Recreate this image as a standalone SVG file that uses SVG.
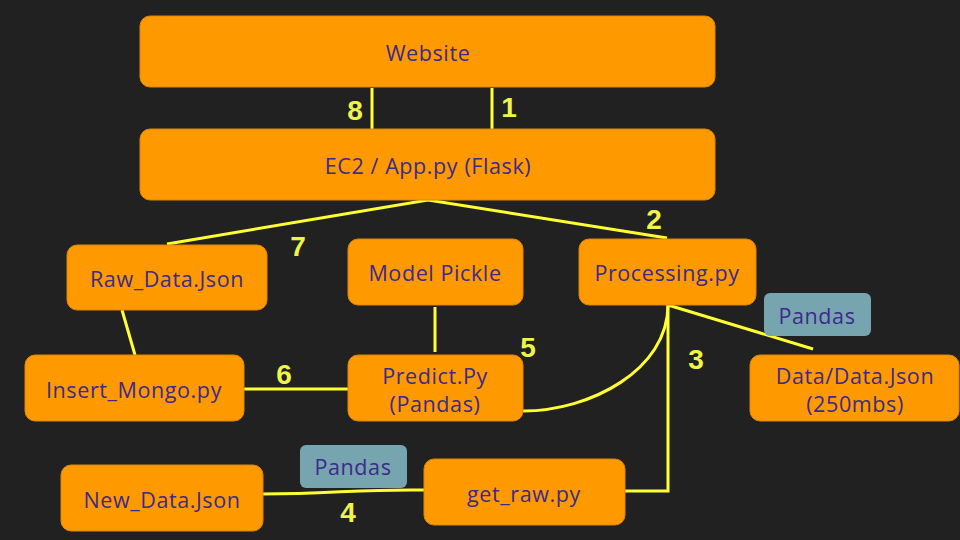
<svg xmlns="http://www.w3.org/2000/svg" width="960" height="540" viewBox="0 0 960 540">
<style>
.box{fill:#ff9900;stroke:#e08600;stroke-width:1}
.tag{fill:#76a5af}
.t{font-family:"Open Sans","Noto Sans",sans-serif;font-size:21.5px;letter-spacing:0.6px;fill:#3d2a8c;text-anchor:middle;dominant-baseline:central}
.n{font-family:"Liberation Sans",Arial,sans-serif;font-size:28px;font-weight:bold;fill:#eef44a;text-anchor:middle;dominant-baseline:central}
.c{fill:none;stroke:#ffff33;stroke-width:3}
</style>
<rect width="960" height="540" fill="#212121"/>
<g id="connectors">
<line class="c" x1="372" y1="88" x2="372" y2="129"/>
<line class="c" x1="492" y1="88" x2="492" y2="129"/>
<polyline class="c" points="167,244 428,200 667,238"/>
<line class="c" x1="122" y1="310" x2="135" y2="355"/>
<line class="c" x1="435" y1="307" x2="435" y2="352"/>
<line class="c" x1="244" y1="389" x2="348" y2="389"/>
<path class="c" d="M668,305 C668,370 590,411 523,411"/>
<line class="c" x1="668" y1="305" x2="813" y2="349"/>
<polyline class="c" points="668,305 668,491 625,491"/>
<path class="c" d="M263,494 C330,494 360,489 424,490"/>
</g>
<g id="labels">
<text class="n" x="355" y="110">8</text>
<text class="n" x="509" y="107">1</text>
<text class="n" x="298" y="246">7</text>
<text class="n" x="654" y="219">2</text>
<text class="n" x="284" y="374">6</text>
<text class="n" x="528" y="347">5</text>
<text class="n" x="696" y="359">3</text>
<text class="n" x="348" y="512">4</text>
</g>
<g id="website"><rect class="box" x="140" y="16" width="575" height="71" rx="10"/><text class="t" x="428" y="52">Website</text></g>
<g id="ec2"><rect class="box" x="140" y="129" width="575" height="71" rx="10"/><text class="t" x="428" y="165">EC2 / App.py (Flask)</text></g>
<g id="raw-data"><rect class="box" x="67" y="245" width="200" height="65" rx="10"/><text class="t" x="167" y="278">Raw_Data.Json</text></g>
<g id="model-pickle"><rect class="box" x="348" y="239" width="175" height="66" rx="10"/><text class="t" x="435" y="272">Model Pickle</text></g>
<g id="processing"><rect class="box" x="579" y="239" width="177" height="66" rx="10"/><text class="t" x="667" y="272">Processing.py</text></g>
<g id="insert-mongo"><rect class="box" x="25" y="355" width="219" height="66" rx="10"/><text class="t" x="134" y="389">Insert_Mongo.py</text></g>
<g id="predict"><rect class="box" x="348" y="355" width="175" height="66" rx="10"/><text class="t" x="435" y="375">Predict.Py</text><text class="t" x="435" y="403">(Pandas)</text></g>
<g id="pandas-1"><rect class="tag" x="764" y="293" width="107" height="43" rx="6"/><text class="t" x="817" y="315">Pandas</text></g>
<g id="data-json"><rect class="box" x="750" y="355" width="209" height="66" rx="10"/><text class="t" x="855" y="375">Data/Data.Json</text><text class="t" x="855" y="403">(250mbs)</text></g>
<g id="pandas-2"><rect class="tag" x="300" y="445" width="107" height="43" rx="6"/><text class="t" x="353" y="466">Pandas</text></g>
<g id="new-data"><rect class="box" x="61" y="465" width="202" height="66" rx="10"/><text class="t" x="162" y="499">New_Data.Json</text></g>
<g id="get-raw"><rect class="box" x="424" y="459" width="201" height="66" rx="10"/><text class="t" x="524" y="493">get_raw.py</text></g>
</svg>
